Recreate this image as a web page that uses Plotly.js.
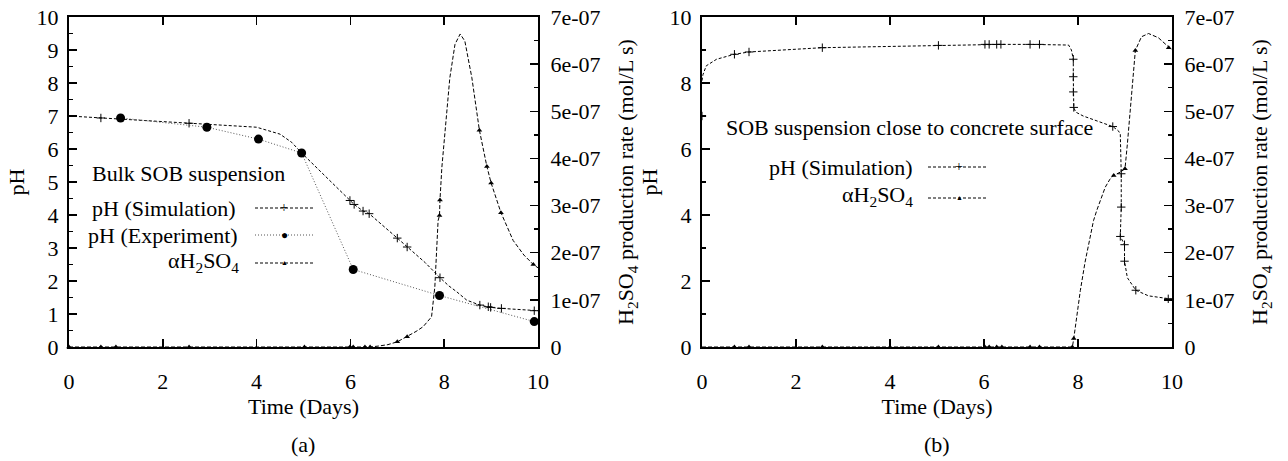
<!DOCTYPE html>
<html>
<head>
<meta charset="utf-8">
<script src="https://cdn.plot.ly/plotly-3.0.1.min.js"></script>
<style>html,body{margin:0;padding:0;background:#fff}#chart{width:1288px;height:461px}</style>
</head>
<body>
<div id="chart"></div>
<script>
// ---------- Panel (a): Bulk SOB suspension ----------
const aSimT   = [0,0.68,1.5,2.56,3.0,3.5,4.0,4.5,4.75,4.96,5.5,5.99,6.08,6.27,6.40,7.0,7.21,7.6,7.91,8.1,8.27,8.48,8.76,8.94,8.99,9.22,9.6,9.92,10];
const aSimPH  = [7.0,6.94,6.87,6.78,6.74,6.71,6.66,6.45,6.2,5.88,5.13,4.44,4.32,4.12,4.04,3.30,3.03,2.55,2.10,1.85,1.67,1.42,1.27,1.22,1.20,1.17,1.13,1.10,1.10];
const aSimMkT = [0.68,2.56,5.99,6.08,6.27,6.40,7.0,7.21,7.91,8.76,8.94,8.99,9.22,9.92];
const aSimMkPH= [6.94,6.78,4.44,4.32,4.12,4.04,3.30,3.03,2.10,1.27,1.22,1.20,1.17,1.10];

const aExpT   = [1.10,2.94,4.04,4.96,6.06,7.90,9.92];
const aExpPH  = [6.94,6.66,6.30,5.88,2.35,1.56,0.77];

const aAlphaT = [0,0.68,1.0,2.56,5.02,5.99,6.06,6.31,6.42,6.6,6.8,7.0,7.21,7.4,7.55,7.73,7.80,7.84,7.87,7.90,7.91,7.95,8.02,8.12,8.23,8.34,8.44,8.59,8.75,8.91,9.0,9.21,9.47,9.7,9.9,10];
const aAlphaR = [0,0,0,0,0,0,0,0,0,0.02,0.05,0.11,0.22,0.33,0.43,0.64,1.27,1.99,2.68,2.79,3.12,3.81,4.66,5.71,6.42,6.64,6.49,5.71,4.60,3.83,3.48,2.85,2.26,1.95,1.75,1.68].map(v=>v*1e-7);
const aAlphaMkT = [0,0.68,1.0,2.56,5.02,5.99,6.06,6.31,6.42,7.0,7.21,7.90,7.91,8.75,8.91,9.0,9.21,9.9];
const aAlphaMkR = [0,0,0,0,0,0,0,0,0,0.11,0.22,2.79,3.12,4.60,3.83,3.48,2.85,1.75].map(v=>v*1e-7);

// ---------- Panel (b): SOB suspension close to concrete surface ----------
const bSimT   = [0,0.02,0.09,0.31,0.69,1.0,2.56,5.03,6.02,6.11,6.27,6.36,6.98,7.18,7.80,7.86,7.90,7.90,7.90,7.91,7.95,8.11,8.74,8.86,8.90,8.92,8.92,8.90,8.99,8.99,9.05,9.23,9.5,9.92,10];
const bSimPH  = [8.07,8.25,8.52,8.72,8.87,8.94,9.07,9.14,9.17,9.17,9.17,9.17,9.17,9.17,9.15,9.0,8.72,8.19,7.73,7.26,7.12,7.0,6.68,6.55,6.45,5.25,4.24,3.35,3.10,2.6,2.1,1.72,1.55,1.46,1.45];
const bSimMkT = [0,0.69,1.0,2.56,5.03,6.02,6.11,6.27,6.36,6.98,7.18,7.90,7.90,7.90,7.91,8.74,8.92,8.92,8.90,8.99,8.99,9.23,9.92];
const bSimMkPH= [7.0,8.87,8.94,9.07,9.14,9.17,9.17,9.17,9.17,9.17,9.17,8.72,8.19,7.73,7.26,6.68,5.25,4.24,3.35,3.10,2.6,1.72,1.46];

const bAlphaT = [0,0.69,1.0,2.56,5.03,6.02,6.11,6.27,6.38,6.98,7.18,7.88,7.91,7.95,8.05,8.15,8.25,8.33,8.40,8.50,8.58,8.68,8.76,8.9,9.0,9.05,9.11,9.22,9.35,9.5,9.71,9.93,10];
const bAlphaR = [0,0,0,0,0,0,0,0,0,0,0,0,0.18,0.5,1.2,1.8,2.3,2.68,2.9,3.2,3.39,3.56,3.64,3.71,3.78,4.3,5.0,6.29,6.58,6.65,6.56,6.35,6.3].map(v=>v*1e-7);
const bAlphaMkT = [0.69,1.0,2.56,5.03,6.02,6.11,6.27,6.38,6.98,7.18,7.88,7.91,8.76,9.0,9.22,9.93];
const bAlphaMkR = [0,0,0,0,0,0,0,0,0,0,0,0.18,3.64,3.78,6.29,6.35].map(v=>v*1e-7);

// ---------- Axis tick labels ----------
const rateTickVals = [0,1e-7,2e-7,3e-7,4e-7,5e-7,6e-7,7e-7];
const rateTickText = ['0','1e-07','2e-07','3e-07','4e-07','5e-07','6e-07','7e-07'];
const timeTicks = [0,2,4,6,8,10];

// ---------- Text ----------
const labelsA = {title:'Bulk SOB suspension', sim:'pH (Simulation)', exp:'pH (Experiment)', alpha:'αH<sub>2</sub>SO<sub>4</sub>', cap:'(a)'};
const labelsB = {title:'SOB suspension close to concrete surface', sim:'pH (Simulation)', alpha:'αH<sub>2</sub>SO<sub>4</sub>', cap:'(b)'};

const W = 1288, H = 461;
const PX = x => x / W, PY = y => 1 - y / H;
const FONT = '"Liberation Serif", serif';
const FS = 22;
const DASH = '3px,2px';

const simLine  = {color:'#000', width:1, dash:DASH};
const alphaLine= {color:'#000', width:1, dash:'4px,2px'};
const crossMk  = {symbol:'cross-thin-open', size:6, color:'#000', line:{width:1, color:'#000'}};
const triMk    = {symbol:'triangle-up', size:5, color:'#000'};

const traces = [
  // Panel a
  {x:aSimT, y:aSimPH, xaxis:'x', yaxis:'y', mode:'lines', line:simLine, showlegend:false, hoverinfo:'skip'},
  {x:aSimMkT, y:aSimMkPH, xaxis:'x', yaxis:'y', mode:'markers', marker:crossMk, showlegend:false},
  {x:aExpT, y:aExpPH, xaxis:'x', yaxis:'y', mode:'lines+markers', line:{color:'#555', width:1, dash:'1px,2px'}, marker:{symbol:'circle', size:9, color:'#000'}, showlegend:false},
  {x:aAlphaT, y:aAlphaR, xaxis:'x', yaxis:'y2', mode:'lines', line:alphaLine, showlegend:false, hoverinfo:'skip'},
  {x:aAlphaMkT, y:aAlphaMkR, xaxis:'x', yaxis:'y2', mode:'markers', marker:triMk, showlegend:false, cliponaxis:false},
  // Panel b
  {x:bSimT, y:bSimPH, xaxis:'x2', yaxis:'y3', mode:'lines', line:simLine, showlegend:false, hoverinfo:'skip'},
  {x:bSimMkT, y:bSimMkPH, xaxis:'x2', yaxis:'y3', mode:'markers', marker:crossMk, showlegend:false},
  {x:bAlphaT, y:bAlphaR, xaxis:'x2', yaxis:'y4', mode:'lines', line:alphaLine, showlegend:false, hoverinfo:'skip'},
  {x:bAlphaMkT, y:bAlphaMkR, xaxis:'x2', yaxis:'y4', mode:'markers', marker:triMk, showlegend:false, cliponaxis:false}
];

const tickfont = {family:FONT, size:FS, color:'#000'};
const baseAxis = {showgrid:false, zeroline:false, showline:true, linecolor:'#000', linewidth:2,
  ticks:'inside', ticklen:8, tickwidth:1.5, tickcolor:'#000', tickfont:tickfont, automargin:false};

const yDomain = [1-347/H, 1-17/H];

function xAxis(dom){
  return Object.assign({}, baseAxis, {domain:dom, range:[0,10], tickvals:timeTicks, mirror:'ticks',
    ticklabelstandoff:14,
    title:{text:'Time (Days)', font:{family:FONT, size:FS, color:'#000'}, standoff:3}});
}
function pHAxis(anchor, dtick, minor){
  return Object.assign({}, baseAxis, {domain:yDomain, anchor:anchor, range:[0,10], dtick:dtick,
    minor:{dtick:minor, ticks:'inside', ticklen:4, tickcolor:'#000'},
    ticklabelstandoff:4,
    title:{text:'pH', font:{family:FONT, size:FS, color:'#000'}, standoff:6}});
}
function rateAxis(over, anchor){
  return Object.assign({}, baseAxis, {overlaying:over, anchor:anchor, side:'right', range:[0,7e-7],
    tickvals:rateTickVals, ticktext:rateTickText,
    minor:{dtick:0.5e-7, ticks:'inside', ticklen:4, tickcolor:'#000'},
    ticklabelstandoff:6,
    title:{text:'H<sub>2</sub>SO<sub>4</sub> production rate (mol/L s)', font:{family:FONT, size:FS, color:'#000'}, standoff:18}});
}

const xa = xAxis([69/W, 538/W]); xa.anchor = 'y';
const xb = xAxis([702/W, 1172/W]); xb.anchor = 'y3';

const txt = (x, y, text, anchor, size) => ({xref:'paper', yref:'paper', x:PX(x), y:PY(y), text:text, showarrow:false,
  xanchor:anchor||'center', yanchor:'middle', font:{family:FONT, size:size||FS, color:'#000'}});
const sample = (x0, x1, y, dash, color) => ({type:'line', xref:'paper', yref:'paper', x0:PX(x0), x1:PX(x1), y0:PY(y), y1:PY(y),
  line:{color:color||'#000', width:1, dash:dash}});

const annotations = [
  txt(90, 173, labelsA.title, 'left'),
  txt(238, 208, labelsA.sim, 'right'),
  txt(240, 235, labelsA.exp, 'right'),
  txt(241, 262, labelsA.alpha, 'right'),
  txt(284, 207, '+', 'center', 14),
  txt(284, 235, '●', 'center', 12),
  txt(284, 263, '▲', 'center', 7),
  txt(303, 444, labelsA.cap),
  txt(724, 127, labelsB.title, 'left'),
  txt(915, 167, labelsB.sim, 'right'),
  txt(915, 196, labelsB.alpha, 'right'),
  txt(959, 166, '+', 'center', 14),
  txt(959, 198, '▲', 'center', 7),
  txt(937, 444, labelsB.cap)
];
const shapes = [
  sample(255, 313, 208, DASH),
  sample(255, 313, 235, '1px,2px', '#555'),
  sample(255, 313, 263, DASH),
  sample(928, 988, 167, DASH),
  sample(928, 988, 198, DASH)
];

const layout = {
  width:W, height:H, margin:{l:0, r:0, t:0, b:0}, paper_bgcolor:'#fff', plot_bgcolor:'rgba(0,0,0,0)',
  showlegend:false, font:{family:FONT, size:FS, color:'#000'},
  xaxis:xa, yaxis:pHAxis('x', 1, 0.5), yaxis2:rateAxis('y', 'x'),
  xaxis2:xb, yaxis3:pHAxis('x2', 2, 1), yaxis4:rateAxis('y3', 'x2'),
  annotations:annotations, shapes:shapes
};

Plotly.newPlot('chart', traces, layout, {staticPlot:true, displayModeBar:false});
</script>
</body>
</html>
